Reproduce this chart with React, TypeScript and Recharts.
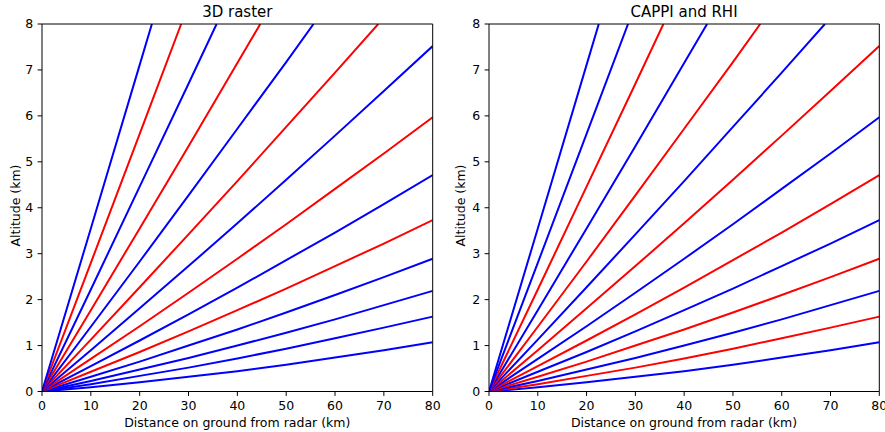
import React from "react";
import { LineChart, Line, XAxis, YAxis, ReferenceLine } from "recharts";

// Beam elevation angles (deg), lowest to highest
const elevations = [0.5, 0.9, 1.3, 1.8, 2.4, 3.1, 4.0, 5.1, 6.4, 8.0, 10.0, 12.5, 15.6, 19.5];

// Distance on ground (km) of the points read along each beam
const beamDistances = [
  [0, 10, 20, 30, 40, 50, 60, 70, 80],
  [0, 10, 20, 30, 40, 50, 60, 70, 80],
  [0, 10, 20, 30, 40, 50, 60, 70, 80],
  [0, 10, 20, 30, 40, 50, 60, 70, 80],
  [0, 10, 20, 30, 40, 50, 60, 70, 80],
  [0, 10, 20, 30, 40, 50, 60, 70, 80],
  [0, 10, 20, 30, 40, 50, 60, 70, 80],
  [0, 10, 20, 30, 40, 50, 60, 70, 80],
  [0, 10, 20, 30, 40, 50, 60, 68.85],
  [0, 10, 20, 30, 40, 50, 55.6],
  [0, 10, 20, 30, 40, 44.7],
  [0, 10, 20, 30, 35.75],
  [0, 10, 20, 28.5],
  [0, 10, 20, 22.5],
];

// Altitude (km) at those distances
const beamAltitudes = [
  [0, 0.09, 0.2, 0.32, 0.44, 0.58, 0.74, 0.9, 1.07],
  [0, 0.16, 0.34, 0.52, 0.72, 0.93, 1.16, 1.39, 1.63],
  [0, 0.23, 0.48, 0.73, 1.0, 1.28, 1.57, 1.88, 2.19],
  [0, 0.32, 0.65, 1.0, 1.35, 1.72, 2.1, 2.49, 2.89],
  [0, 0.43, 0.86, 1.31, 1.77, 2.24, 2.73, 3.22, 3.73],
  [0, 0.55, 1.11, 1.68, 2.26, 2.86, 3.46, 4.08, 4.71],
  [0, 0.71, 1.42, 2.15, 2.89, 3.64, 4.41, 5.18, 5.97],
  [0, 0.9, 1.81, 2.73, 3.66, 4.61, 5.57, 6.54, 7.52],
  [0, 1.13, 2.27, 3.42, 4.58, 5.76, 6.94, 8],
  [0, 1.41, 2.83, 4.27, 5.72, 7.17, 8],
  [0, 1.77, 3.55, 5.34, 7.15, 8],
  [0, 2.22, 4.46, 6.7, 8],
  [0, 2.8, 5.61, 8],
  [0, 3.55, 7.11, 8],
];

const B = "#0000ff";
const R = "#ff0000";
const rasterColors = [B, B, B, B, R, B, R, B, R, B, R, B, R, B];
const cappiColors = [B, R, B, R, B, R, B, R, B, R, B, R, B, B];

const xTicks = [0, 10, 20, 30, 40, 50, 60, 70, 80];
const yTicks = [0, 1, 2, 3, 4, 5, 6, 7, 8];

const FONT = "DejaVu Sans";

const beams = elevations.map((el, i) => ({
  el,
  points: beamDistances[i].map((d, j) => ({ d, h: beamAltitudes[i][j] })),
}));

type PanelProps = {
  left: number;
  width: number;
  rightMargin: number;
  colors: string[];
};

const Panel = ({ left, width, rightMargin, colors }: PanelProps) => (
  <LineChart
    width={width}
    height={432}
    margin={{ top: 24, right: rightMargin, bottom: 0, left: 0 }}
    style={{ position: "absolute", left, top: 0 }}
  >
    <XAxis
      dataKey="d"
      type="number"
      domain={[0, 80]}
      ticks={xTicks}
      interval={0}
      allowDataOverflow
      height={40.5}
      tickSize={4.4}
      tickMargin={5.2}
      axisLine={{ stroke: "#000", strokeWidth: 1 }}
      tickLine={{ stroke: "#000", strokeWidth: 1 }}
      tick={{ fill: "#000", fontSize: 12.5, fontFamily: FONT }}
    />
    <YAxis
      type="number"
      domain={[0, 8]}
      ticks={yTicks}
      interval={0}
      allowDataOverflow
      width={42}
      tickSize={4.4}
      tickMargin={4.4}
      axisLine={{ stroke: "#000", strokeWidth: 1 }}
      tickLine={{ stroke: "#000", strokeWidth: 1 }}
      tick={{ fill: "#000", fontSize: 12.5, fontFamily: FONT }}
    />
    {beams.map((b, i) => (
      <Line
        key={b.el}
        data={b.points}
        dataKey="h"
        type="linear"
        stroke={colors[i]}
        strokeWidth={2}
        dot={false}
        activeDot={false}
        isAnimationActive={false}
      />
    ))}
    {/* top and right spines */}
    <ReferenceLine y={8} stroke="#000" strokeWidth={1} />
    <ReferenceLine x={80} stroke="#000" strokeWidth={1} />
  </LineChart>
);

export default function App() {
  return (
    <div
      style={{
        position: "absolute",
        left: 0,
        top: 0,
        width: 885,
        height: 432,
        background: "#fff",
        fontFamily: FONT,
      }}
    >
      <Panel left={0} width={442} rightMargin={9.3} colors={rasterColors} />
      <Panel left={447} width={438} rightMargin={5.7} colors={cappiColors} />
      <svg
        width={885}
        height={432}
        style={{ position: "absolute", left: 0, top: 0, pointerEvents: "none" }}
        fontFamily={FONT}
      >
        <text x={237.3} y={17} textAnchor="middle" fontSize={15}>
          3D raster
        </text>
        <text x={684} y={17} textAnchor="middle" fontSize={15}>
          CAPPI and RHI
        </text>
        <text x={237.3} y={427} textAnchor="middle" fontSize={12.5}>
          Distance on ground from radar (km)
        </text>
        <text x={684} y={427} textAnchor="middle" fontSize={12.5}>
          Distance on ground from radar (km)
        </text>
        <text x={19.5} y={205.5} textAnchor="middle" fontSize={12.5} transform="rotate(-90 19.5 205.5)">
          Altitude (km)
        </text>
        <text x={464.5} y={205.5} textAnchor="middle" fontSize={12.5} transform="rotate(-90 464.5 205.5)">
          Altitude (km)
        </text>
      </svg>
    </div>
  );
}
